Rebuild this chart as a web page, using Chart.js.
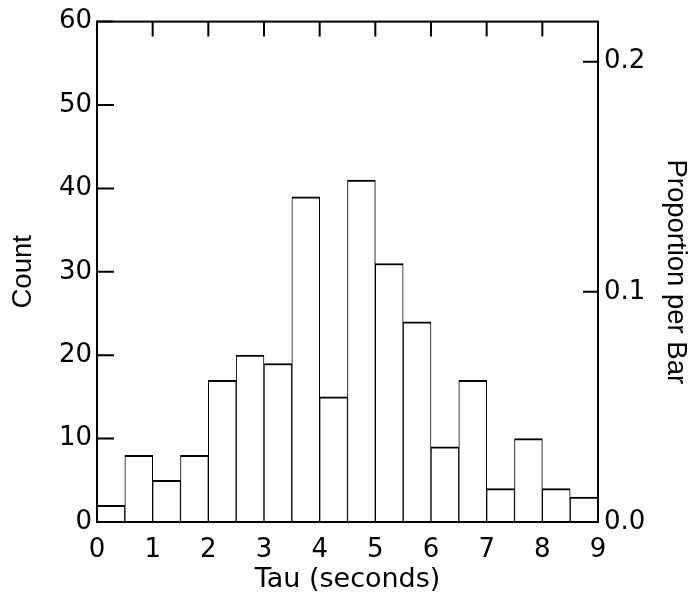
<!DOCTYPE html>
<html>
<head>
<meta charset="utf-8">
<script src="https://cdn.jsdelivr.net/npm/chart.js@4/dist/chart.umd.min.js"></script>
<style>
  html, body { margin: 0; padding: 0; background: #fff; }
  #wrap { width: 692px; height: 602px; }
</style>
</head>
<body>
<div id="wrap"><canvas id="histChart"></canvas></div>
<script>
// histogram bins (centres, seconds) and counts per bar
const tauCenters = [0.25, 0.75, 1.25, 1.75, 2.25, 2.75, 3.25, 3.75, 4.25,
                    4.75, 5.25, 5.75, 6.25, 6.75, 7.25, 7.75, 8.25, 8.75];
const counts = [2, 8, 5, 8, 17, 20, 19, 39, 15, 41, 31, 24, 9, 17, 4, 10, 4, 3];
const xTicks = [0, 1, 2, 3, 4, 5, 6, 7, 8, 9];
const countTicks = [0, 10, 20, 30, 40, 50, 60];
const propTicks = [0.0, 0.1, 0.2];

const total = counts.reduce((a, b) => a + b, 0);
const countMax = countTicks[countTicks.length - 1];

// the original text is a bit wide, DejaVu fits the horizontal labels best
const font = { family: '"DejaVu Sans", Arial, Helvetica, sans-serif', size: 26 };
const xTitleFont = { family: '"DejaVu Sans", Arial, Helvetica, sans-serif', size: 27 };
const vTitleFont = { family: '"Liberation Sans", Arial, Helvetica, sans-serif', size: 27.5 };

// frame + inward tick marks, like the original plot
const frameTicks = {
  id: 'frameTicks',
  afterDraw(chart) {
    const { ctx, chartArea: a, scales } = chart;
    const len = 15;
    ctx.save();
    ctx.strokeStyle = '#000';
    ctx.lineWidth = 2;
    ctx.beginPath();
    countTicks.forEach(v => {
      const py = scales.y.getPixelForValue(v);
      ctx.moveTo(a.left, py); ctx.lineTo(a.left + len + 2, py);
    });
    xTicks.forEach(v => {
      const px = scales.x.getPixelForValue(v);
      ctx.moveTo(px, a.top); ctx.lineTo(px, a.top + len);
    });
    propTicks.forEach(v => {
      const py = scales.y2.getPixelForValue(v);
      ctx.moveTo(a.right, py); ctx.lineTo(a.right - len, py);
    });
    ctx.stroke();
    ctx.strokeRect(a.left, a.top, a.right - a.left, a.bottom - a.top);
    ctx.restore();
  }
};

new Chart(document.getElementById('histChart'), {
  type: 'bar',
  data: {
    datasets: [{
      data: tauCenters.map((x, i) => ({ x: x, y: counts[i] })),
      backgroundColor: '#fff',
      borderColor: '#000',
      borderWidth: { top: 2, left: 1, right: 1, bottom: 0 },
      barPercentage: 1,
      categoryPercentage: 1,
      yAxisID: 'y'
    }]
  },
  options: {
    responsive: true,
    maintainAspectRatio: false,
    animation: false,
    layout: { padding: { top: 21, left: 0, right: 0, bottom: 0 } },
    plugins: { legend: { display: false }, tooltip: { enabled: false } },
    scales: {
      x: {
        type: 'linear',
        offset: false,
        min: 0, max: 9,
        afterFit: s => { s.height = 80; },
        afterBuildTicks: s => { s.ticks = xTicks.map(v => ({ value: v })); },
        grid: { display: false, drawTicks: false },
        border: { display: false },
        ticks: { color: '#000', font: font, padding: 13, maxRotation: 0 },
        title: { display: true, text: 'Tau (seconds)', color: '#000', font: xTitleFont,
                 padding: { top: 0, bottom: 6 } }
      },
      y: {
        position: 'left',
        min: 0, max: countMax,
        afterFit: s => { s.width = 97; },
        afterBuildTicks: s => { s.ticks = countTicks.map(v => ({ value: v })); },
        grid: { display: false, drawTicks: false },
        border: { display: false },
        ticks: { color: '#000', font: font, padding: 5 },
        title: { display: true, text: 'Count', color: '#000', font: vTitleFont,
                 padding: { top: 7, bottom: 0 } }
      },
      y2: {
        position: 'right',
        min: 0, max: countMax / total,
        afterFit: s => { s.width = 94; },
        afterBuildTicks: s => { s.ticks = propTicks.map(v => ({ value: v })); },
        grid: { display: false, drawTicks: false },
        border: { display: false },
        ticks: { color: '#000', font: font, padding: 6,
                 callback: v => Number(v).toFixed(1) },
        title: { display: true, text: 'Proportion per Bar', color: '#000', font: vTitleFont,
                 padding: { top: 0, bottom: 0 } }
      }
    }
  },
  plugins: [frameTicks]
});
</script>
</body>
</html>
